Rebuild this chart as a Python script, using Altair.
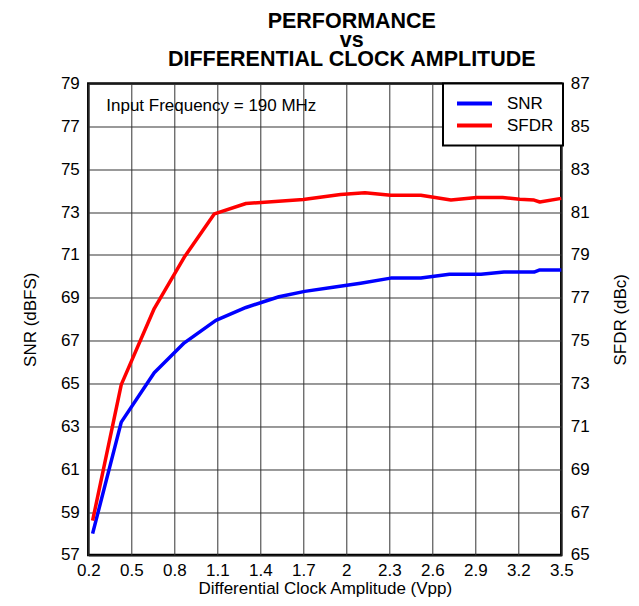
import altair as alt
import pandas as pd

# ---- data ----
snr_x = [0.23, 0.43, 0.66, 0.87, 1.09, 1.30, 1.53, 1.71, 1.92, 2.10, 2.31, 2.52, 2.72, 2.94, 3.10, 3.31, 3.35, 3.50]
snr = [58.0, 63.2, 65.5, 66.9, 67.95, 68.55, 69.05, 69.3, 69.5, 69.68, 69.92, 69.92, 70.1, 70.1, 70.2, 70.2, 70.3, 70.3]

sfdr_x = [0.23, 0.43, 0.66, 0.87, 1.08, 1.30, 1.70, 1.96, 2.13, 2.31, 2.52, 2.73, 2.91, 3.09, 3.21, 3.31, 3.35, 3.50]
sfdr = [66.6, 72.95, 76.5, 78.9, 80.92, 81.4, 81.59, 81.82, 81.9, 81.79, 81.79, 81.56, 81.68, 81.68, 81.6, 81.56, 81.47, 81.64]

x_ticks = [0.2, 0.5, 0.8, 1.1, 1.4, 1.7, 2.0, 2.3, 2.6, 2.9, 3.2, 3.5]
snr_ticks = [57, 59, 61, 63, 65, 67, 69, 71, 73, 75, 77, 79]
sfdr_ticks = [65, 67, 69, 71, 73, 75, 77, 79, 81, 83, 85, 87]
series_names = ["SNR", "SFDR"]
series_colors = ["#0000ff", "#ff0000"]
annotation = ["Input Frequency = 190 MHz"]

FONT = "Liberation Sans"

df_snr = pd.DataFrame({"x": snr_x, "v": snr, "series": "SNR"})
df_sfdr = pd.DataFrame({"x": sfdr_x, "v": sfdr, "series": "SFDR"})
df_note = pd.DataFrame({"t": annotation})

x_enc = alt.X(
    "x:Q",
    scale=alt.Scale(domain=[0.2, 3.5], nice=False, zero=False),
    axis=alt.Axis(values=x_ticks, format="~g", labelFlush=False,
                  title="Differential Clock Amplitude (Vpp)",
                  labelPadding=8, titlePadding=2, grid=True),
)

color_enc = alt.Color(
    "series:N",
    scale=alt.Scale(domain=series_names, range=series_colors),
    legend=alt.Legend(
        orient="none", legendX=354.7, legendY=0, title=None,
        symbolType="stroke", symbolSize=1225, symbolStrokeWidth=4,
        symbolOffset=3, clipHeight=22,
        labelFont=FONT, labelFontSize=17, labelColor="black", labelOffset=13,
        padding=9, rowPadding=0, strokeColor="black", fillColor="white",
    ),
)

snr_line = alt.Chart(df_snr).mark_line(strokeWidth=3.5, strokeJoin="round").encode(
    x=x_enc,
    y=alt.Y("v:Q", scale=alt.Scale(domain=[57, 79], nice=False, zero=False),
            axis=alt.Axis(orient="left", values=snr_ticks, title="SNR (dBFS)",
                          labelPadding=9, titlePadding=21, grid=True)),
    color=color_enc,
)

sfdr_line = alt.Chart(df_sfdr).mark_line(strokeWidth=3.5, strokeJoin="round").encode(
    x=x_enc,
    y=alt.Y("v:Q", scale=alt.Scale(domain=[65, 87], nice=False, zero=False),
            axis=alt.Axis(orient="right", values=sfdr_ticks, title="SFDR (dBc)",
                          labelPadding=9, titlePadding=40, grid=False, titleAngle=270)),
    color=color_enc,
)

note = alt.Chart(df_note).mark_text(
    align="left", baseline="alphabetic", font=FONT, fontSize=17, color="black"
).encode(x=alt.value(18), y=alt.value(27), text="t:N")

chart = alt.layer(snr_line, sfdr_line, note).resolve_scale(y="independent").properties(
    width=473,
    height=471.5,
    autosize=alt.AutoSizeParams(type="none"),
    padding={"left": 80.3, "top": 75.5, "right": 69, "bottom": 43},
    title=alt.TitleParams(
        text=["PERFORMANCE", "vs", "DIFFERENTIAL CLOCK AMPLITUDE"],
        font=FONT, fontSize=21.5, fontWeight="bold", color="black",
        lineHeight=19.5, anchor="middle", dx=27, offset=3.5, frame="group",
    ),
).configure_view(
    stroke="black", strokeWidth=2.5
).configure_legend(
    strokeWidth=2
).configure_axis(
    domain=False, ticks=False, gridColor="#333333", gridWidth=1, gridOpacity=1,
    labelFont=FONT, labelFontSize=17, labelColor="black",
    titleFont=FONT, titleFontSize=17, titleFontWeight="normal", titleColor="black",
)

chart.save("out.html", embed_options={"renderer": "svg", "actions": False})
